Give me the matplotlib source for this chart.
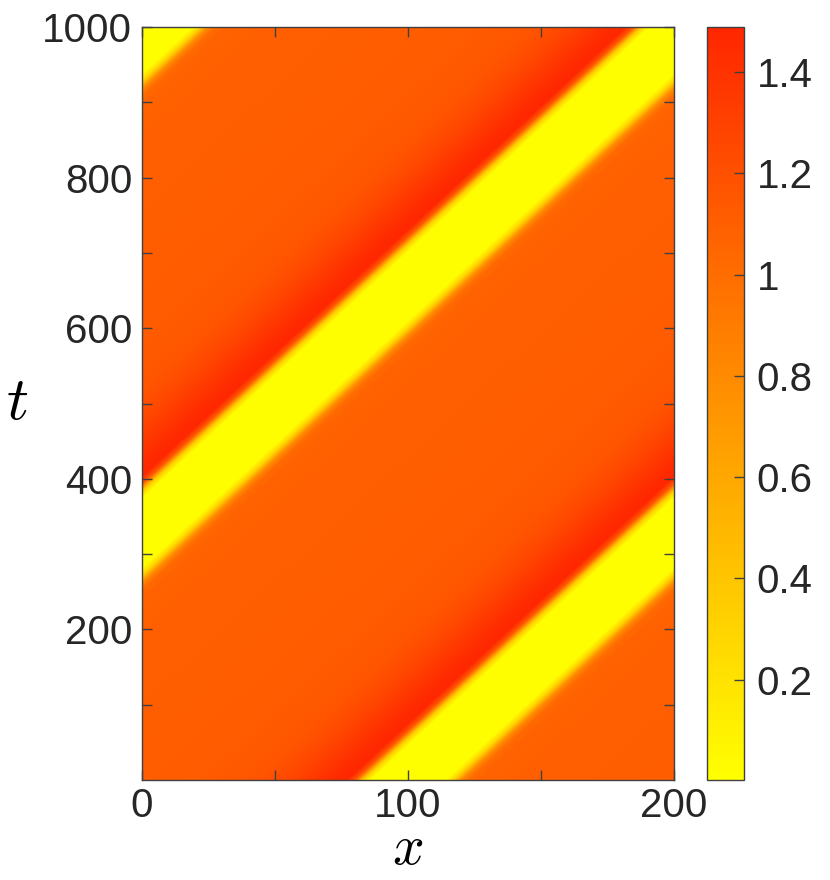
import numpy as np
import matplotlib
matplotlib.use("Agg")
import matplotlib.pyplot as plt
from matplotlib.colors import LinearSegmentedColormap

plt.rcParams.update({
    "font.family": ["Liberation Sans", "DejaVu Sans"],
    "mathtext.fontset": "cm",
    "font.size": 29,
})

# travelling wave: profile read along the bottom row (t = 0), then shifted with speed c
profile_xi = [0, 20, 35, 45, 55, 65, 72, 77, 80, 83, 86, 114, 117, 120, 123, 127, 140, 170, 200]
profile_u = [1.11, 1.12, 1.14, 1.18, 1.26, 1.37, 1.45, 1.48, 1.15, 0.35, 0.01, 0.01, 0.30, 0.80, 1.02, 1.07, 1.09, 1.10, 1.11]
wave_speed = 0.305
period = 200
x_range = [0, 200]
t_range = [0, 1000]

x = np.linspace(x_range[0], x_range[1], 401)
t = np.linspace(t_range[0], t_range[1], 1001)
X, T = np.meshgrid(x, t)
xi = np.mod(X - wave_speed * T, period)
U = np.interp(xi, profile_xi, profile_u)

cmap = LinearSegmentedColormap.from_list("yr", ["#FFFF00", "#FF2600"])

fig = plt.figure(figsize=(8.3, 8.8), dpi=100)
ax = fig.add_axes([0.171, 0.1136, 0.641, 0.8557])
cax = fig.add_axes([0.852, 0.1136, 0.0446, 0.8557])

im = ax.imshow(U, origin="lower", extent=[*x_range, *t_range], aspect="auto",
               cmap=cmap, vmin=0.002, vmax=1.489, interpolation="bilinear")

edge = "#404040"
ax.set_xlim(*x_range)
ax.set_ylim(*t_range)
ax.set_xticks([0, 50, 100, 150, 200])
ax.set_xticklabels(["0", "", "100", "", "200"])
ax.set_yticks(np.arange(100, 1001, 100))
ax.set_yticklabels(["" if v % 200 else str(v) for v in range(100, 1001, 100)])
ax.tick_params(direction="in", length=7, width=1, color=edge, labelcolor="#262626",
               top=True, right=True, pad=7)
ax.tick_params(axis="x", pad=5)
for s in ax.spines.values():
    s.set_color(edge)
    s.set_linewidth(1)
ax.set_xlabel(r"$x$", fontsize=40, labelpad=-1)
ax.set_ylabel(r"$t$", fontsize=44, rotation=0, labelpad=18, va="center")

cb = fig.colorbar(im, cax=cax)
cb.set_ticks([0.2, 0.4, 0.6, 0.8, 1.0, 1.2, 1.4])
cb.set_ticklabels(["0.2", "0.4", "0.6", "0.8", "1", "1.2", "1.4"])
cb.ax.tick_params(direction="in", length=7, width=1, color=edge, labelcolor="#262626", pad=9)
cb.outline.set_edgecolor(edge)
cb.outline.set_linewidth(1)

fig.savefig("out.png", dpi=100)
